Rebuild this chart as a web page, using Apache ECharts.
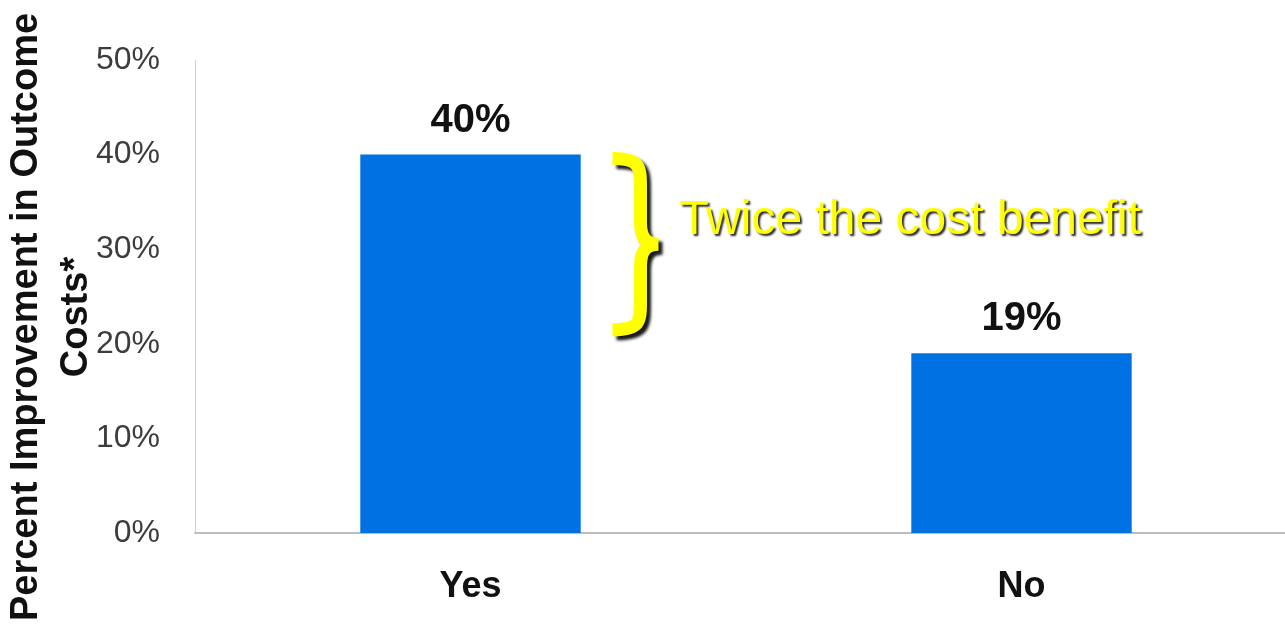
<!DOCTYPE html>
<html>
<head>
<meta charset="utf-8">
<style>
  html, body { margin: 0; padding: 0; background: #fff; }
  #chart { width: 1285px; height: 630px; }
</style>
<script src="https://cdn.jsdelivr.net/npm/echarts@6/dist/echarts.min.js"></script>
</head>
<body>
<div id="chart"></div>
<script>
// Outcome cost improvement by group
const categories = ['Yes', 'No'];
const improvement = [40, 19];
const yTicks = { min: 0, max: 50, step: 10 };
const axisTitle = 'Percent Improvement in Outcome\nCosts*';
const calloutText = 'Twice the cost benefit';

const FONT = '"Liberation Sans", Arial, sans-serif';
const chart = echarts.init(document.getElementById('chart'), null, { renderer: 'canvas' });

// Curly brace drawn beside the first bar, spanning from its top down to the 20% level
function renderBrace(params, api) {
  const top = api.coord([0, improvement[0]]);
  const bot = api.coord([0, 20]);
  const topY = top[1] + 4;
  const botY = bot[1] - 14;
  const midY = (topY + botY) / 2;
  const bx = top[0] + 142, stem = bx + 28, tip = bx + 46;
  const pathData =
    `M${bx} ${topY} C${stem} ${topY} ${stem} ${topY + 8} ${stem} ${topY + 30} ` +
    `L${stem} ${midY - 22} C${stem} ${midY - 6} ${stem + 6} ${midY} ${tip} ${midY} ` +
    `C${stem + 6} ${midY} ${stem} ${midY + 6} ${stem} ${midY + 22} ` +
    `L${stem} ${botY - 30} C${stem} ${botY - 8} ${stem} ${botY} ${bx} ${botY}`;
  return {
    type: 'group',
    children: [
      {
        type: 'path',
        shape: { pathData: pathData },
        style: {
          fill: null,
          stroke: '#ffff00',
          lineWidth: 13,
          shadowColor: 'rgba(0,0,0,0.9)',
          shadowBlur: 3,
          shadowOffsetX: 4,
          shadowOffsetY: 4
        }
      },
      {
        type: 'text',
        x: tip + 21,
        y: midY - 23,
        style: {
          text: calloutText,
          font: `48px ${FONT}`,
          fill: '#ffff00',
          align: 'left',
          verticalAlign: 'middle',
          textShadowColor: 'rgba(0,0,0,0.85)',
          textShadowBlur: 2,
          textShadowOffsetX: 2,
          textShadowOffsetY: 2
        }
      }
    ]
  };
}

chart.setOption({
  animation: false,
  backgroundColor: '#ffffff',
  grid: { left: 195, right: -12, top: 60, bottom: 97, outerBoundsMode: 'none', containLabel: false },
  xAxis: {
    type: 'category',
    data: categories,
    axisLine: { lineStyle: { color: '#bdbdbd', width: 2 } },
    axisTick: { show: false },
    axisLabel: { margin: 36, fontFamily: FONT, fontWeight: 'bold', fontSize: 36, color: '#111' }
  },
  yAxis: {
    type: 'value',
    min: yTicks.min,
    max: yTicks.max,
    interval: yTicks.step,
    splitLine: { show: false },
    axisTick: { show: false },
    axisLine: { show: true, lineStyle: { color: '#d0d0d0', width: 1 } },
    axisLabel: {
      margin: 35, fontFamily: FONT, fontSize: 32, color: '#3c3c3c',
      formatter: v => v + '%'
    }
  },
  graphic: [{
    type: 'text',
    x: 52, y: 317,
    rotation: Math.PI / 2,
    style: {
      text: axisTitle,
      font: `bold 38px ${FONT}`,
      fill: '#111',
      align: 'center',
      verticalAlign: 'middle',
      lineHeight: 50
    }
  }],
  series: [
    {
      type: 'bar',
      data: improvement,
      barWidth: '40%',
      itemStyle: { color: '#0071e3' },
      label: {
        show: true, position: 'top', distance: 14,
        fontFamily: FONT, fontWeight: 'bold', fontSize: 40, color: '#111',
        formatter: p => p.value + '%'
      }
    },
    {
      type: 'custom',
      data: [[0, improvement[0]]],
      clip: false,
      silent: true,
      z: 5,
      renderItem: renderBrace
    }
  ]
});
</script>
</body>
</html>
